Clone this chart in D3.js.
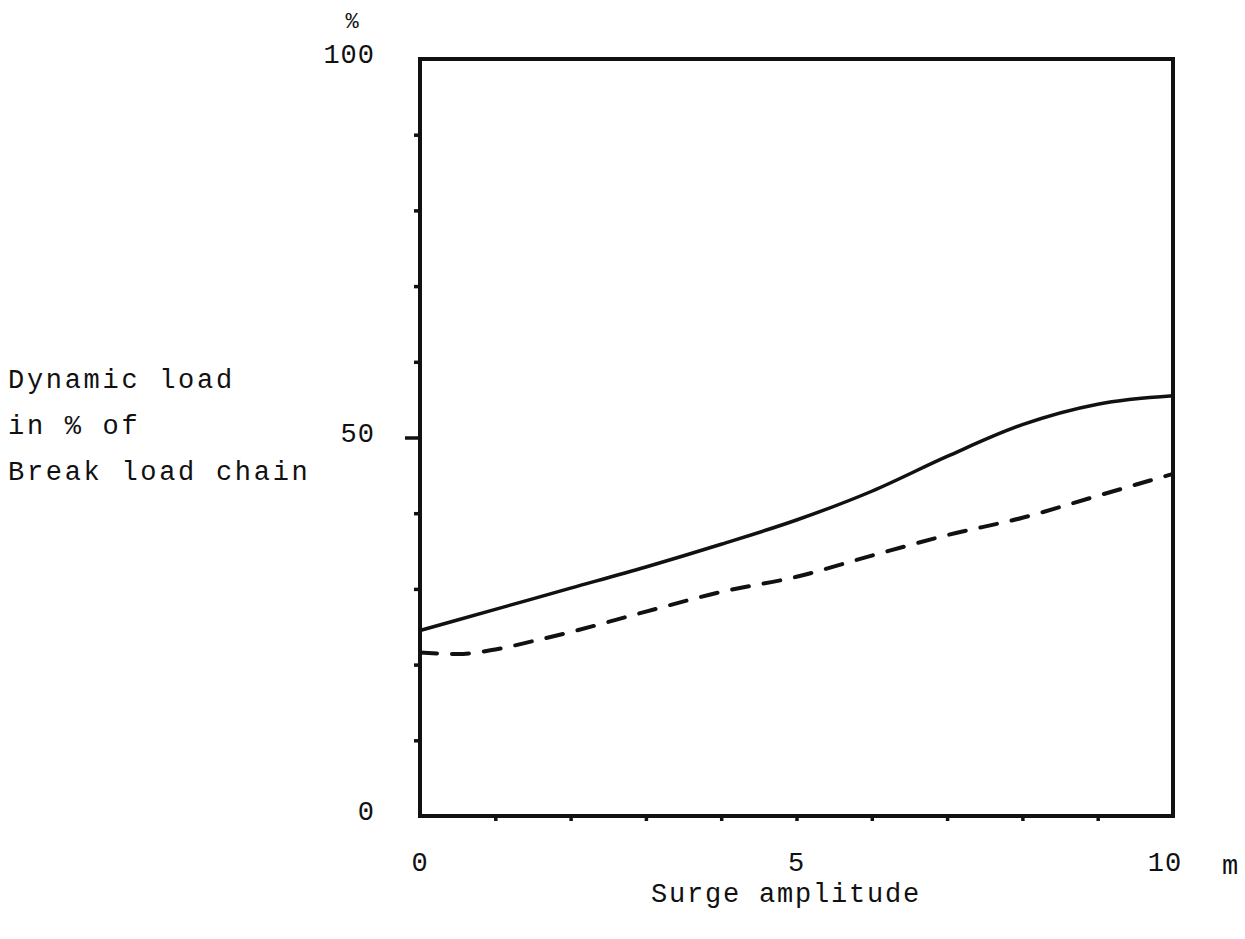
<!DOCTYPE html>
<html>
<head>
<meta charset="utf-8">
<script src="https://cdn.jsdelivr.net/npm/d3@7"></script>
<style>
  html, body { margin: 0; padding: 0; background: #fff; }
  svg { display: block; }
  text { font-family: "Liberation Mono", "DejaVu Sans Mono", monospace; fill: #111; }
</style>
</head>
<body>
<svg id="chart" width="1245" height="939"></svg>
<script>
// Surge amplitude (m) and dynamic load (% of chain break load)
const solidX = [0, 1, 2, 3, 4, 5, 6, 7, 8, 9, 10];
const solidY = [24.5, 27.3, 30.1, 32.9, 35.9, 39.1, 42.9, 47.5, 51.7, 54.4, 55.5];
const dashedX = [0, 0.5, 1, 1.5, 2, 3, 4, 5, 6, 7, 8, 9, 10];
const dashedY = [21.6, 21.4, 22.0, 23.1, 24.3, 27.0, 29.6, 31.6, 34.4, 37.1, 39.4, 42.3, 45.2];
const yTickLabels = [0, 50, 100];
const xTickLabels = [0, 5, 10];
const yTitle = ["Dynamic load", "in % of", "Break load chain"];
const xTitle = "Surge amplitude";

const svg = d3.select("#chart");
const x = d3.scaleLinear().domain([0, 10]).range([420, 1173]);
const y = d3.scaleLinear().domain([0, 100]).range([816, 59]);
const ink = "#111";

// frame
svg.append("rect")
  .attr("x", x(0)).attr("y", y(100))
  .attr("width", x(10) - x(0)).attr("height", y(0) - y(100))
  .attr("fill", "none").attr("stroke", ink).attr("stroke-width", 4);

// minor ticks on the left axis, longer one at 50
const yMinor = svg.append("g").attr("transform", `translate(${x(0)},0)`)
  .call(d3.axisLeft(y).tickValues(d3.range(10, 100, 10)).tickSize(6).tickFormat(""));
yMinor.select(".domain").remove();
yMinor.selectAll("line").attr("stroke", ink).attr("stroke-width", 3.5);
yMinor.selectAll(".tick").filter(d => d === 50).select("line").attr("x2", -15);

// minor ticks on the bottom axis
const xMinor = svg.append("g").attr("transform", `translate(0,${y(0)})`)
  .call(d3.axisBottom(x).tickValues(d3.range(1, 10, 1)).tickSize(5).tickFormat(""));
xMinor.select(".domain").remove();
xMinor.selectAll("line").attr("stroke", ink).attr("stroke-width", 3.5);

// tick labels
svg.append("g").selectAll("text").data(yTickLabels).join("text")
  .attr("x", 375).attr("y", d => y(d) + 4)
  .attr("text-anchor", "end").attr("font-size", 27).attr("letter-spacing", 1)
  .text(d => d);
svg.append("text").attr("x", 352).attr("y", 28).attr("text-anchor", "middle")
  .attr("font-size", 22).text("%");

svg.append("g").selectAll("text").data(xTickLabels).join("text")
  .attr("x", d => x(d) - (d === 10 ? 8 : 0)).attr("y", 871)
  .attr("text-anchor", "middle").attr("font-size", 27).attr("letter-spacing", 1)
  .text(d => d);
svg.append("text").attr("x", 1230).attr("y", 874).attr("text-anchor", "middle")
  .attr("font-size", 27).text("m");

// axis titles
svg.append("g").selectAll("text").data(yTitle).join("text")
  .attr("x", 8).attr("y", (d, i) => 388 + i * 46)
  .attr("font-size", 27).attr("letter-spacing", 2.7)
  .text(d => d);
svg.append("text").attr("x", 786).attr("y", 902).attr("text-anchor", "middle")
  .attr("font-size", 27).attr("letter-spacing", 1.8).text(xTitle);

// curves
const line = d3.line().x(d => x(d[0])).y(d => y(d[1])).curve(d3.curveMonotoneX);
svg.append("path")
  .datum(solidX.map((v, i) => [v, solidY[i]]))
  .attr("d", line).attr("fill", "none").attr("stroke", ink).attr("stroke-width", 3.5);
svg.append("path")
  .datum(dashedX.map((v, i) => [v, dashedY[i]]))
  .attr("d", line).attr("fill", "none").attr("stroke", ink).attr("stroke-width", 4)
  .attr("stroke-dasharray", "17,15").attr("stroke-linecap", "round");
</script>
</body>
</html>
